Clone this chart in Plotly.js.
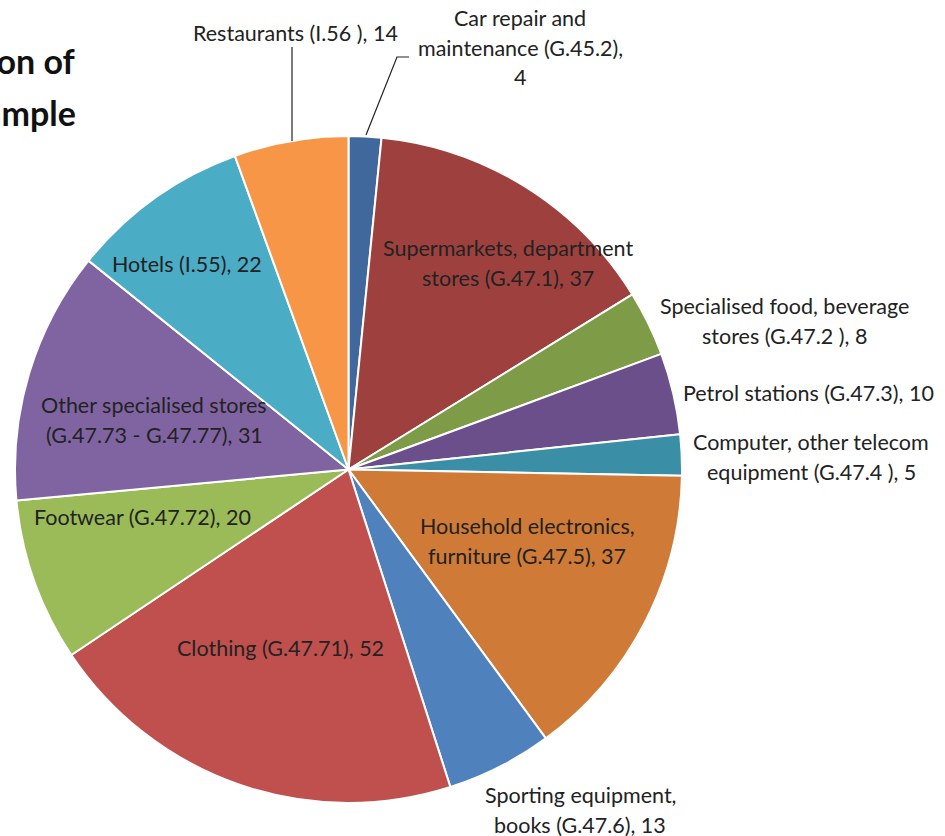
<!DOCTYPE html>
<html>
<head>
<meta charset="utf-8">
<script src="https://cdn.plot.ly/plotly-3.0.1.min.js"></script>
<style>html,body{margin:0;padding:0;background:#fff}#chart{width:945px;height:836px}</style>
</head>
<body>
<div id="chart"></div>
<script>
// ---- data ----
const categories = [
  "Car repair and\nmaintenance (G.45.2),\n4",
  "Supermarkets, department\nstores (G.47.1), 37",
  "Specialised food, beverage\nstores (G.47.2 ), 8",
  "Petrol stations (G.47.3), 10",
  "Computer, other telecom\nequipment (G.47.4 ), 5",
  "Household electronics,\nfurniture (G.47.5), 37",
  "Sporting equipment,\nbooks (G.47.6), 13",
  "Clothing (G.47.71), 52",
  "Footwear (G.47.72), 20",
  "Other specialised stores\n(G.47.73 - G.47.77), 31",
  "Hotels (I.55), 22",
  "Restaurants (I.56 ), 14"
];
const values = [4, 37, 8, 10, 5, 37, 13, 52, 20, 31, 22, 14];
const colors = ["#41689C","#9E413E","#7E9B48","#6A4F8A","#3A8FA6","#CF7B37",
                "#4F81BD","#C0504D","#9BBB59","#8064A2","#4BACC6","#F79646"];
// label block centres (pixels), layout only
const labelPos = [[520,48],[508,263],[784,321],[808,393],[811,457],[527,541],
                  [580,810],[280,648],[142,517],[154,420],[187,264],[295,33]];
const titleLines = ["Distribution of", "the sample"];

const W = 945, H = 836;
const px = x => x / W, py = y => 1 - y / H;
const font = "Lato, 'Open Sans', sans-serif";
const LS = 29.5;

const annotations = [];
categories.forEach((c, i) => {
  const lines = c.split("\n");
  const n = lines.length;
  lines.forEach((t, j) => {
    annotations.push({
      xref: "paper", yref: "paper",
      x: px(labelPos[i][0]), y: py(labelPos[i][1] + (j - (n - 1) / 2) * LS),
      xanchor: "center", yanchor: "middle", showarrow: false,
      text: t, font: {family: font, size: 21.5, color: "#222"}
    });
  });
});
titleLines.forEach((t, j) => {
  annotations.push({
    xref: "paper", yref: "paper", x: px(78), y: py(60 + j * 52),
    xanchor: "right", yanchor: "middle", showarrow: false,
    text: "<b>" + t + "</b>", font: {family: font, size: 34, color: "#111"}
  });
});

const shapes = [
  {type: "path", xref: "paper", yref: "paper",
   path: `M ${px(292)} ${py(141)} L ${px(292)} ${py(47)}`,
   line: {color: "#222", width: 1.2}},
  {type: "path", xref: "paper", yref: "paper",
   path: `M ${px(366)} ${py(135)} L ${px(397)} ${py(57)} L ${px(409)} ${py(57)}`,
   line: {color: "#222", width: 1.2}}
];

const trace = {
  type: "pie",
  labels: categories.map(c => c.replace(/\n/g, " ")),
  values: values,
  sort: false,
  direction: "clockwise",
  rotation: 0,
  textinfo: "none",
  hoverinfo: "label+value",
  marker: {colors: colors, line: {color: "#ffffff", width: 2}},
  domain: {x: [15 / W, 682 / W], y: [(H - 803) / H, (H - 136) / H]},
  showlegend: false
};

Plotly.newPlot("chart", [trace], {
  width: W, height: H,
  margin: {l: 0, r: 0, t: 0, b: 0},
  paper_bgcolor: "#fff",
  showlegend: false,
  annotations: annotations,
  shapes: shapes
}, {displayModeBar: false, staticPlot: true});
</script>
</body>
</html>
